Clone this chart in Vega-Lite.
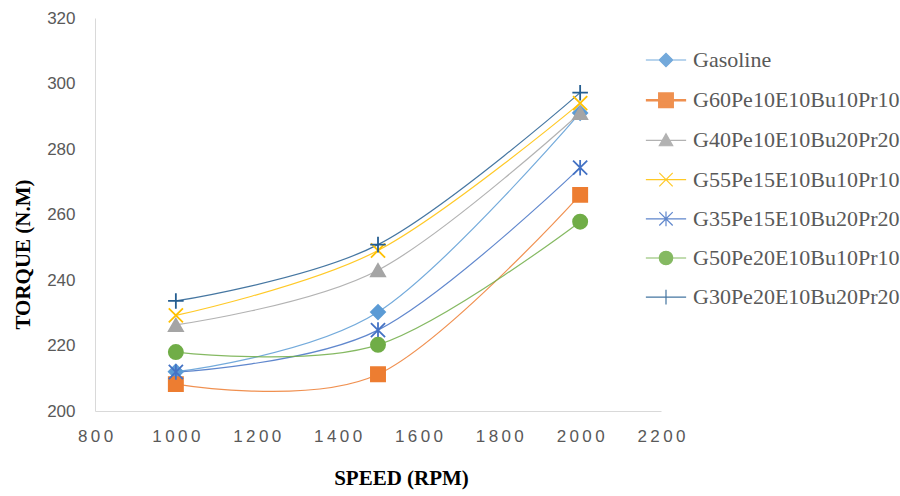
{
  "$schema": "https://vega.github.io/schema/vega-lite/v6.json",
  "width": 566,
  "height": 393,
  "autosize": {"type": "none"},
  "padding": {"left": 95, "top": 18, "right": 239, "bottom": 85},
  "background": "white",
  "config": {
    "view": {"stroke": null},
    "legend": {
      "orient": "none", "legendX": 560, "legendY": 31,
      "title": null,
      "labelFont": "Liberation Serif", "labelFontSize": 22, "labelColor": "#595959", "labelLimit": 400,
      "rowPadding": 17.2, "symbolSize": 180, "labelOffset": 16,
      "symbolStrokeWidth": 1.2
    }
  },
  "data": {"values": [
    {"speed": 1000, "torque": 212, "fuel": "Gasoline"},
    {"speed": 1500, "torque": 230.2, "fuel": "Gasoline"},
    {"speed": 2000, "torque": 291, "fuel": "Gasoline"},
    {"speed": 1000, "torque": 208.2, "fuel": "G60Pe10E10Bu10Pr10"},
    {"speed": 1500, "torque": 211.2, "fuel": "G60Pe10E10Bu10Pr10"},
    {"speed": 2000, "torque": 266, "fuel": "G60Pe10E10Bu10Pr10"},
    {"speed": 1000, "torque": 226.3, "fuel": "G40Pe10E10Bu20Pr20"},
    {"speed": 1500, "torque": 243, "fuel": "G40Pe10E10Bu20Pr20"},
    {"speed": 2000, "torque": 291, "fuel": "G40Pe10E10Bu20Pr20"},
    {"speed": 1000, "torque": 229.2, "fuel": "G55Pe15E10Bu10Pr10"},
    {"speed": 1500, "torque": 249, "fuel": "G55Pe15E10Bu10Pr10"},
    {"speed": 2000, "torque": 294, "fuel": "G55Pe15E10Bu10Pr10"},
    {"speed": 1000, "torque": 211.9, "fuel": "G35Pe15E10Bu20Pr20"},
    {"speed": 1500, "torque": 224.7, "fuel": "G35Pe15E10Bu20Pr20"},
    {"speed": 2000, "torque": 274.3, "fuel": "G35Pe15E10Bu20Pr20"},
    {"speed": 1000, "torque": 218, "fuel": "G50Pe20E10Bu10Pr10"},
    {"speed": 1500, "torque": 220.2, "fuel": "G50Pe20E10Bu10Pr10"},
    {"speed": 2000, "torque": 257.8, "fuel": "G50Pe20E10Bu10Pr10"},
    {"speed": 1000, "torque": 233.6, "fuel": "G30Pe20E10Bu20Pr20"},
    {"speed": 1500, "torque": 250.8, "fuel": "G30Pe20E10Bu20Pr20"},
    {"speed": 2000, "torque": 297.2, "fuel": "G30Pe20E10Bu20Pr20"}
  ]},
  "encoding": {
    "x": {
      "field": "speed", "type": "quantitative",
      "scale": {"domain": [800, 2200], "nice": false, "zero": false},
      "axis": {
        "values": [800, 1000, 1200, 1400, 1600, 1800, 2000, 2200],
        "format": "d",
        "labelExpr": "replace(datum.label, regexp('([0-9])(?=[0-9])', 'g'), '$1\u2009')",
        "labelFlush": false,
        "grid": false, "ticks": false,
        "domainColor": "#d9d9d9", "domainWidth": 1,
        "labelFont": "Liberation Sans", "labelFontSize": 17, "labelColor": "#595959",
        "labelPadding": 17,
        "title": "SPEED (RPM)",
        "titleFont": "Liberation Serif", "titleFontSize": 21, "titleFontWeight": "bold", "titleColor": "#000000",
        "titleX": 306, "titleY": 67, "titleAnchor": "middle", "titleBaseline": "middle"
      }
    },
    "y": {
      "field": "torque", "type": "quantitative",
      "scale": {"domain": [200, 320], "nice": false, "zero": false},
      "axis": {
        "values": [200, 220, 240, 260, 280, 300, 320],
        "labelFlush": false,
        "grid": false, "ticks": false,
        "domainColor": "#d9d9d9", "domainWidth": 1,
        "labelFont": "Liberation Sans", "labelFontSize": 17, "labelColor": "#595959",
        "labelPadding": 20,
        "title": "TORQUE (N.M)",
        "titleFont": "Liberation Serif", "titleFontSize": 21, "titleFontWeight": "bold", "titleColor": "#000000",
        "titleX": -72, "titleY": 236, "titleAnchor": "middle", "titleBaseline": "middle", "titleAngle": -90
      }
    },
    "color": {
      "field": "fuel", "type": "nominal",
      "scale": {
        "domain": ["Gasoline", "G60Pe10E10Bu10Pr10", "G40Pe10E10Bu20Pr20", "G55Pe15E10Bu10Pr10", "G35Pe15E10Bu20Pr20", "G50Pe20E10Bu10Pr10", "G30Pe20E10Bu20Pr20"],
        "range": ["#5B9BD5", "#ED7D31", "#A5A5A5", "#FFC000", "#4472C4", "#70AD47", "#255E91"]
      },
      "legend": {
        "encoding": {
          "symbols": {
            "fill": {"value": {"expr": "scale('color', datum.value)"}},
            "stroke": {"value": {"expr": "scale('color', datum.value)"}},
            "strokeWidth": {"value": {"expr": "datum.value === 'G60Pe10E10Bu10Pr10' ? 2.5 : 1.2"}},
            "shape": {"value": {"expr": "datum.value === 'Gasoline' ? 'M-3,0L3,0M-1,0L0,-1L1,0L0,1Z' : datum.value === 'G60Pe10E10Bu10Pr10' ? 'M-3,0L3,0M-1,-1L1,-1L1,1L-1,1Z' : datum.value === 'G40Pe10E10Bu20Pr20' ? 'M-3,0L3,0M0,-1L1,0.8L-1,0.8Z' : datum.value === 'G55Pe15E10Bu10Pr10' ? 'M-3,0L3,0M-1,-1L1,1M-1,1L1,-1' : datum.value === 'G35Pe15E10Bu20Pr20' ? 'M-3,0L3,0M-1,-1L1,1M-1,1L1,-1M0,-1.1L0,1.1' : datum.value === 'G50Pe20E10Bu10Pr10' ? 'M-3,0L3,0M1,0A1,1,0,1,1,-1,0A1,1,0,1,1,1,0Z' : 'M-3,0L3,0M0,-1.1L0,1.1'"}}
          }
        }
      }
    }
  },
  "layer": [
    {
      "mark": {"type": "line", "interpolate": "cardinal", "strokeWidth": 1.2, "opacity": 0.85}
    },
    {
      "mark": {"type": "point", "filled": true, "size": 200, "strokeWidth": 1.8, "opacity": 1},
      "encoding": {
        "stroke": {"field": "fuel", "type": "nominal", "scale": {
            "domain": ["Gasoline", "G60Pe10E10Bu10Pr10", "G40Pe10E10Bu20Pr20", "G55Pe15E10Bu10Pr10", "G35Pe15E10Bu20Pr20", "G50Pe20E10Bu10Pr10", "G30Pe20E10Bu20Pr20"],
            "range": ["#5B9BD5", "#ED7D31", "#A5A5A5", "#FFC000", "#4472C4", "#70AD47", "#255E91"]
          }},
        "shape": {
          "field": "fuel", "type": "nominal",
          "scale": {
            "domain": ["G30Pe20E10Bu20Pr20", "Gasoline", "G60Pe10E10Bu10Pr10", "G40Pe10E10Bu20Pr20", "G55Pe15E10Bu10Pr10", "G35Pe15E10Bu20Pr20", "G50Pe20E10Bu10Pr10"],
            "range": ["M-1.1,0L1.1,0M0,-1.1L0,1.1", "diamond", "square", "triangle-up", "M-1,-1L1,1M-1,1L1,-1", "M-1,-1L1,1M-1,1L1,-1M0,-1.1L0,1.1", "circle"]
          },
          "legend": null
        }
      }
    }
  ]
}
